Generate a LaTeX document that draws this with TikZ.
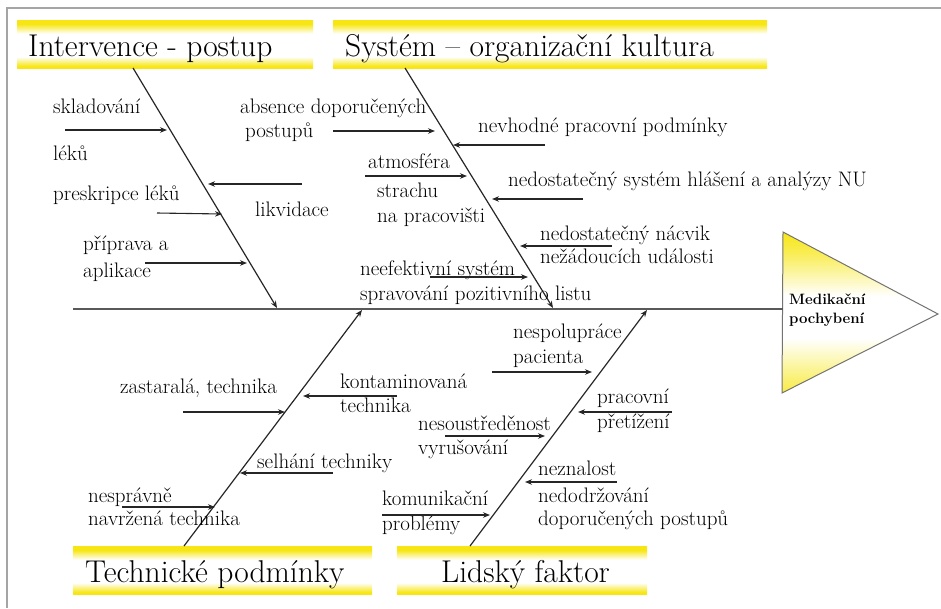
\documentclass[tikz,border=0pt]{standalone}
\usetikzlibrary{arrows.meta}
\definecolor{hy}{RGB}{247,230,20}
\definecolor{framegray}{RGB}{165,165,165}
\pgfdeclareverticalshading{ybox}{100bp}{color(0bp)=(hy); color(27bp)=(hy); color(37bp)=(white); color(61bp)=(white); color(71bp)=(hy); color(100bp)=(hy)}
\pgfdeclareverticalshading{ytri}{100bp}{color(0bp)=(hy!80); color(25bp)=(hy!80); color(42bp)=(white); color(55bp)=(white); color(68bp)=(hy!70); color(75bp)=(hy); color(100bp)=(hy)}
\begin{document}
\begin{tikzpicture}[x=1pt,y=-1pt,
  lbl/.style={anchor=base west, inner sep=0pt, font=\fontsize{21}{24}\selectfont},
  hdr/.style={anchor=base west, inner sep=0pt, font=\fontsize{31.5}{34}\selectfont},
  effect/.style={anchor=base west, inner sep=0pt, font=\fontsize{15}{18}\selectfont\bfseries},
  hbox/.style={shade, shading=ybox, draw=none, inner sep=0pt, anchor=north west},
  bone/.style={draw=black!85, line width=1.2pt, -{Stealth[length=7pt,width=5.5pt]}},
  sub/.style={draw=black!85, line width=1.1pt, -{Stealth[length=7pt,width=5.5pt]}},
  spine/.style={draw=black!65, line width=1.5pt}
]
\useasboundingbox (0,0) rectangle (941,608);
% frame
\coordinate (fbl) at (7,608);
\coordinate (ftl) at (7,8);
\coordinate (ftr) at (941,8);
\draw[framegray, line width=2pt] (fbl) -- (ftl) -- (ftr);

% header boxes
\node[hbox, minimum width=296pt, minimum height=48pt] (box1) at (17,20) {};
\node[hbox, minimum width=434pt, minimum height=48pt] (box2) at (333,20) {};
\node[hbox, minimum width=299pt, minimum height=48pt] (box3) at (73,546) {};
\node[hbox, minimum width=250pt, minimum height=48pt] (box4) at (397,546) {};
\node[hdr] (h1) at (28,56) {Intervence - postup};
\node[hdr] (h2) at (345,56) {Systém – organizační kultura};
\node[hdr] (h3) at (85,582) {Technické podmínky};
\node[hdr] (h4) at (441,582) {Lidský faktor};

% effect triangle
\coordinate (t1) at (783,232);
\coordinate (t2) at (938,314);
\coordinate (t3) at (782,393);
\path[shade, shading=ytri, draw=black!55, line width=1pt] (t1) -- (t2) -- (t3) -- cycle;
\node[effect] (e1) at (789,304) {Medikační};
\node[effect] (e2) at (789,323) {pochybení};

% spine
\coordinate (spL) at (73,309);
\coordinate (spR) at (783,309);
\draw[spine] (spL) -- (spR);

% bones
\coordinate (b1s) at (133,68);  \coordinate (b1e) at (277,308);
\coordinate (b2s) at (405,68);  \coordinate (b2e) at (553,308);
\coordinate (b3s) at (184,546); \coordinate (b3e) at (362,310);
\coordinate (b4s) at (470,546); \coordinate (b4e) at (647,310);
\draw[bone] (b1s) -- (b1e);
\draw[bone] (b2s) -- (b2e);
\draw[bone] (b3s) -- (b3e);
\draw[bone] (b4s) -- (b4e);

% Intervence - postup
\node[lbl] (l1) at (53,113) {skladování};
\node[lbl] (l2) at (53,160) {léků};
\node[lbl] (l3) at (53,200) {preskripce léků};
\node[lbl] (l4) at (255,216) {likvidace};
\node[lbl] (l5) at (83,250) {příprava a};
\node[lbl] (l6) at (83,277) {aplikace};
\coordinate (a1s) at (65,130);  \coordinate (a1e) at (167,130);
\coordinate (a2s) at (302,184); \coordinate (a2e) at (208,184);
\coordinate (a3s) at (157,213); \coordinate (a3e) at (222,214);
\coordinate (a4s) at (145,263); \coordinate (a4e) at (247,263);
\draw[sub] (a1s) -- (a1e);
\draw[sub] (a2s) -- (a2e);
\draw[sub] (a3s) -- (a3e);
\draw[sub] (a4s) -- (a4e);

% Systém - organizační kultura
\node[lbl] (m1) at (240,113) {absence doporučených};
\node[lbl] (m2) at (245,137) {postupů};
\node[lbl] (m3) at (368,168) {atmosféra};
\node[lbl] (m4) at (377,197) {strachu};
\node[lbl] (m5) at (377,222) {na pracovišti};
\node[lbl] (m6) at (360,275) {neefektivní systém};
\node[lbl] (m7) at (360,300) {spravování pozitivního listu};
\node[lbl] (r1) at (478,132) {nevhodné pracovní podmínky};
\node[lbl] (r2) at (508,186) {nedostatečný systém hlášení a analýzy NU};
\node[lbl] (r3) at (540,240) {nedostatečný nácvik};
\node[lbl] (r4) at (540,263) {nežádoucích události};
\coordinate (a5s) at (333,131);  \coordinate (a5e) at (435,131);
\coordinate (a6s) at (545,145);  \coordinate (a6e) at (453,145);
\coordinate (a7s) at (365,176);  \coordinate (a7e) at (467,176);
\coordinate (a8s) at (583,199);  \coordinate (a8e) at (492,199);
\coordinate (a9s) at (612,246);  \coordinate (a9e) at (520,246);
\coordinate (a10s) at (430,277); \coordinate (a10e) at (528,277);
\draw[sub] (a5s) -- (a5e);
\draw[sub] (a6s) -- (a6e);
\draw[sub] (a7s) -- (a7e);
\draw[sub] (a8s) -- (a8e);
\draw[sub] (a9s) -- (a9e);
\draw[sub] (a10s) -- (a10e);

% Technické podmínky
\node[lbl] (t4) at (120,393) {zastaralá, technika};
\node[lbl] (t5) at (340,388) {kontaminovaná};
\node[lbl] (t6) at (340,412) {technika};
\node[lbl] (t7) at (257,468) {selhání techniky};
\node[lbl] (t8) at (88,502) {nesprávně};
\node[lbl] (t9) at (88,525) {navržená technika};
\coordinate (a11s) at (183,412); \coordinate (a11e) at (285,412);
\coordinate (a12s) at (397,396); \coordinate (a12e) at (303,396);
\coordinate (a13s) at (333,473); \coordinate (a13e) at (240,473);
\coordinate (a14s) at (122,507); \coordinate (a14e) at (215,507);
\draw[sub] (a11s) -- (a11e);
\draw[sub] (a12s) -- (a12e);
\draw[sub] (a13s) -- (a13e);
\draw[sub] (a14s) -- (a14e);

% Lidský faktor
\node[lbl] (f1) at (513,338) {nespolupráce};
\node[lbl] (f2) at (513,363) {pacienta};
\node[lbl] (f3) at (418,430) {nesoustředěnost};
\node[lbl] (f4) at (418,454) {vyrušování};
\node[lbl] (f5) at (382,505) {komunikační};
\node[lbl] (f6) at (382,530) {problémy};
\node[lbl] (f7) at (597,403) {pracovní};
\node[lbl] (f8) at (597,428) {přetížení};
\node[lbl] (f9) at (538,475) {neznalost};
\node[lbl] (f10) at (538,502) {nedodržování};
\node[lbl] (f11) at (538,525) {doporučených postupů};
\coordinate (a15s) at (492,372); \coordinate (a15e) at (592,372);
\coordinate (a16s) at (672,412); \coordinate (a16e) at (578,412);
\coordinate (a17s) at (445,436); \coordinate (a17e) at (545,436);
\coordinate (a18s) at (617,482); \coordinate (a18e) at (525,482);
\coordinate (a19s) at (382,515); \coordinate (a19e) at (490,515);
\draw[sub] (a15s) -- (a15e);
\draw[sub] (a16s) -- (a16e);
\draw[sub] (a17s) -- (a17e);
\draw[sub] (a18s) -- (a18e);
\draw[sub] (a19s) -- (a19e);
\end{tikzpicture}
\end{document}
